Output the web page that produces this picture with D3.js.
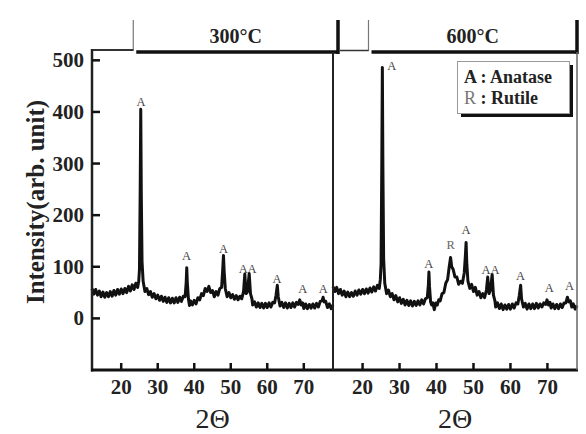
<!DOCTYPE html>
<html>
<head>
<meta charset="utf-8">
<script src="https://cdnjs.cloudflare.com/ajax/libs/d3/7.8.5/d3.min.js"></script>
<style>
  body { margin: 0; background: #fff; }
  text { font-family: "Liberation Serif", "DejaVu Serif", serif; }
</style>
</head>
<body>
<svg id="xrd" width="586" height="434"></svg>
<script>
// XRD patterns, [2theta, intensity]
var pattern300 = [
  [12,58],[12.5,47],[13,56],[13.5,45],[14,53],[14.5,42],[15,51],[15.5,41],[16,50],[16.5,42],[17,52],[17.5,43],
  [18,54],[18.5,45],[19,56],[19.5,47],[20,57],[20.5,48],[21,58],[21.5,50],[22,62],[22.5,53],[23,65],[23.5,56],
  [24,68],[24.5,60],[24.8,72],[25.0,95],[25.2,250],[25.35,405],[25.5,240],[25.7,110],[26,72],[26.5,52],[27,58],
  [27.5,46],[28,52],[28.5,41],[29,48],[29.5,38],[30,45],[30.5,35],[31,43],[31.5,33],[32,41],[32.5,31],[33,40],
  [33.5,30],[34,39],[34.5,30],[35,40],[35.5,31],[36,41],[36.5,33],[37,43],[37.5,42],[37.8,70],[37.95,98],
  [38.1,70],[38.4,38],[38.7,25],[39,34],[39.5,26],[40,35],[40.5,28],[41,40],[41.5,36],[42,48],[42.5,44],[43,58],
  [43.5,52],[44,62],[44.5,50],[45,54],[45.5,42],[46,52],[46.5,45],[47,58],[47.5,60],[47.8,95],[48.0,122],
  [48.2,90],[48.5,58],[49,42],[49.5,50],[50,40],[50.5,46],[51,37],[51.5,44],[52,36],[52.5,43],[53,38],[53.5,52],
  [53.85,86],[54.2,48],[54.6,52],[55.05,87],[55.4,48],[55.8,38],[56,26],[56.5,32],[57,22],[57.5,30],[58,21],
  [58.5,29],[59,20],[59.5,29],[60,21],[60.5,30],[61,22],[61.5,31],[62,30],[62.4,45],[62.75,64],[63,42],[63.5,24],
  [64,31],[64.5,21],[65,30],[65.5,20],[66,29],[66.5,21],[67,30],[67.5,22],[68,31],[68.5,27],[68.9,36],[69.3,26],
  [69.7,30],[70,19],[70.5,28],[71,19],[71.5,27],[72,20],[72.5,28],[73,20],[73.5,29],[74,22],[74.5,33],[75,34],
  [75.3,41],[75.6,32],[76,33],[76.5,21],[77,28],[77.5,19],[78,26]
];
var pattern600 = [
  [12,62],[12.5,52],[13,60],[13.5,48],[14,56],[14.5,45],[15,53],[15.5,42],[16,51],[16.5,42],[17,50],[17.5,43],
  [18,53],[18.5,45],[19,55],[19.5,47],[20,56],[20.5,48],[21,57],[21.5,49],[22,59],[22.5,51],[23,61],[23.5,53],
  [24,64],[24.5,58],[24.8,75],[25.0,105],[25.2,300],[25.35,486],[25.5,290],[25.7,115],[26,68],[26.5,48],[27,55],
  [27.5,42],[28,48],[28.5,36],[29,44],[29.5,32],[30,40],[30.5,29],[31,37],[31.5,26],[32,35],[32.5,25],[33,34],
  [33.5,24],[34,33],[34.5,25],[35,34],[35.5,26],[36,36],[36.5,28],[37,38],[37.5,40],[37.8,65],[37.95,90],
  [38.1,62],[38.4,32],[38.7,26],[39,30],[39.4,17],[39.8,30],[40.2,26],[40.6,36],[41,34],[41.5,48],[42,50],
  [42.5,68],[43,75],[43.4,98],[43.8,118],[44.1,100],[44.5,95],[45,80],[45.5,80],[46,66],[46.5,72],[47,68],
  [47.5,88],[47.8,120],[48.0,147],[48.2,105],[48.5,72],[49,58],[49.5,66],[50,52],[50.5,60],[51,45],[51.5,52],
  [52,40],[52.5,48],[53,40],[53.5,55],[53.85,80],[54.2,48],[54.6,55],[55.05,85],[55.4,45],[55.8,34],[56,22],
  [56.5,30],[57,19],[57.5,28],[58,17],[58.5,26],[59,18],[59.5,27],[60,18],[60.5,28],[61,20],[61.5,30],[62,28],
  [62.4,45],[62.75,64],[63,38],[63.5,22],[64,29],[64.5,18],[65,28],[65.5,19],[66,28],[66.5,19],[67,29],[67.5,20],
  [68,28],[68.5,22],[69,30],[69.5,27],[69.9,36],[70.3,26],[70.7,31],[71,20],[71.5,28],[72,19],[72.5,27],[73,19],
  [73.5,28],[74,21],[74.5,30],[75,30],[75.4,41],[75.8,32],[76.2,34],[76.6,22],[77,28],[77.5,18],[78,25]
];

// peak labels: [2theta, intensity of label, text]
var labels300 = [[25.4,422,"A"],[37.9,122,"A"],[48.0,136,"A"],[53.4,97,"A"],[55.8,97,"A"],[62.7,79,"A"],[69.7,58,"A"],[75.3,58,"A"]];
var labels600 = [[27.9,490,"A"],[37.9,108,"A"],[43.8,145,"R"],[48.0,173,"A"],[53.4,95,"A"],[55.8,95,"A"],[62.7,85,"A"],[70.5,60,"A"],[76.0,64,"A"]];

var panelTitles = ["300°C", "600°C"];
var yTicks = [0, 100, 200, 300, 400, 500];
var xTicks = [20, 30, 40, 50, 60, 70];

var svg = d3.select("#xrd");

var y = d3.scaleLinear().domain([-100, 520]).range([370, 50]);
var xL = d3.scaleLinear().domain([12, 78]).range([92, 333]);
var xR = d3.scaleLinear().domain([12, 78]).range([333, 577]);

var panels = [
  { x: xL, data: pattern300, labels: labels300, title: panelTitles[0], bracketStart: 23.3 },
  { x: xR, data: pattern600, labels: labels600, title: panelTitles[1], bracketStart: 21.6 }
];

panels.forEach(function(p, i) {
  var g = svg.append("g");

  var line = d3.line()
    .x(function(d){ return p.x(d[0]); })
    .y(function(d){ return y(d[1]); });

  g.append("path")
    .datum(p.data)
    .attr("d", line)
    .attr("fill", "none")
    .attr("stroke", "#111")
    .attr("stroke-width", 3)
    .attr("stroke-linejoin", "round");

  g.selectAll("text.peak")
    .data(p.labels)
    .enter()
    .append("text")
      .attr("class", "peak")
      .attr("x", function(d){ return p.x(d[0]); })
      .attr("y", function(d){ return y(d[1]) + 5; })
      .attr("text-anchor", "middle")
      .attr("font-size", 12.5)
      .attr("fill", function(d){ return d[2] == "R" ? "#666" : "#444"; })
      .text(function(d){ return d[2]; });

  // x ticks, pointing up from the bottom axis
  g.selectAll("line.xt")
    .data(xTicks)
    .enter()
    .append("line")
      .attr("x1", function(d){ return p.x(d); })
      .attr("x2", function(d){ return p.x(d); })
      .attr("y1", 370)
      .attr("y2", 363)
      .attr("stroke", "#111")
      .attr("stroke-width", 2.5);

  g.selectAll("text.xl")
    .data(xTicks)
    .enter()
    .append("text")
      .attr("x", function(d){ return p.x(d); })
      .attr("y", 394)
      .attr("text-anchor", "middle")
      .attr("font-size", 21)
      .attr("font-weight", "bold")
      .attr("fill", "#222")
      .text(function(d){ return d; });

  g.append("text")
    .attr("x", p.x(45))
    .attr("y", 428)
    .attr("text-anchor", "middle")
    .attr("font-size", 28)
    .attr("fill", "#222")
    .text("2Θ");

  // header bracket
  var x0 = p.x(p.bracketStart), x1 = p.x.range()[1];
  var xe = i == 0 ? x1 + 5 : x1;
  g.append("line").attr("x1", x0).attr("x2", x0).attr("y1", 20).attr("y2", 51)
    .attr("stroke", "#777").attr("stroke-width", 1.2);
  g.append("line").attr("x1", x0 + 3).attr("x2", xe).attr("y1", 52).attr("y2", 52)
    .attr("stroke", "#111").attr("stroke-width", 3.5);
  g.append("line").attr("x1", xe).attr("x2", xe).attr("y1", 20).attr("y2", 54)
    .attr("stroke", "#111").attr("stroke-width", 3.5);
  g.append("text")
    .attr("x", (x0 + xe) / 2)
    .attr("y", 43)
    .attr("text-anchor", "middle")
    .attr("font-size", 20)
    .attr("font-weight", "bold")
    .attr("fill", "#222")
    .text(p.title);
});

// thin top segments outside the brackets
svg.append("line").attr("x1", 91).attr("x2", xL(23.3)).attr("y1", 50).attr("y2", 50)
  .attr("stroke", "#333").attr("stroke-width", 2);
svg.append("line").attr("x1", 340).attr("x2", xR(21.6)).attr("y1", 50.5).attr("y2", 50.5)
  .attr("stroke", "#333").attr("stroke-width", 1.5);

// frame
svg.append("line").attr("x1", 92).attr("x2", 92).attr("y1", 49).attr("y2", 371.5)
  .attr("stroke", "#222").attr("stroke-width", 2.5);
svg.append("line").attr("x1", 91).attr("x2", 578).attr("y1", 370).attr("y2", 370)
  .attr("stroke", "#111").attr("stroke-width", 3);
svg.append("line").attr("x1", 333).attr("x2", 333).attr("y1", 52).attr("y2", 370)
  .attr("stroke", "#222").attr("stroke-width", 2);
svg.append("line").attr("x1", 577).attr("x2", 577).attr("y1", 52).attr("y2", 370)
  .attr("stroke", "#666").attr("stroke-width", 1.5);

// y axis ticks and labels
svg.selectAll("line.yt")
  .data(yTicks)
  .enter()
  .append("line")
    .attr("x1", 92)
    .attr("x2", 100)
    .attr("y1", function(d){ return y(d); })
    .attr("y2", function(d){ return y(d); })
    .attr("stroke", "#111")
    .attr("stroke-width", 2.5);

svg.selectAll("text.yl")
  .data(yTicks)
  .enter()
  .append("text")
    .attr("x", 84)
    .attr("y", function(d){ return y(d) + 7; })
    .attr("text-anchor", "end")
    .attr("font-size", 21)
    .attr("font-weight", "bold")
    .attr("fill", "#222")
    .text(function(d){ return d; });

svg.append("text")
  .attr("transform", "translate(44,202) rotate(-90)")
  .attr("text-anchor", "middle")
  .attr("font-size", 25)
  .attr("font-weight", "bold")
  .attr("fill", "#222")
  .text("Intensity(arb. unit)");

// legend
var lg = svg.append("g");
lg.append("rect").attr("x", 461).attr("y", 65).attr("width", 112).attr("height", 52).attr("fill", "#111");
lg.append("rect").attr("x", 457.5).attr("y", 61.5).attr("width", 112).attr("height", 52)
  .attr("fill", "#fff").attr("stroke", "#999").attr("stroke-width", 1);
lg.append("text").attr("x", 464).attr("y", 83).attr("font-size", 18).attr("font-weight", "bold").attr("fill", "#222")
  .text("A : Anatase");
var t2 = lg.append("text").attr("x", 464).attr("y", 104).attr("font-size", 18).attr("fill", "#222");
t2.append("tspan").attr("fill", "#777").text("R");
t2.append("tspan").attr("font-weight", "bold").text(" : Rutile");
</script>
</body>
</html>
